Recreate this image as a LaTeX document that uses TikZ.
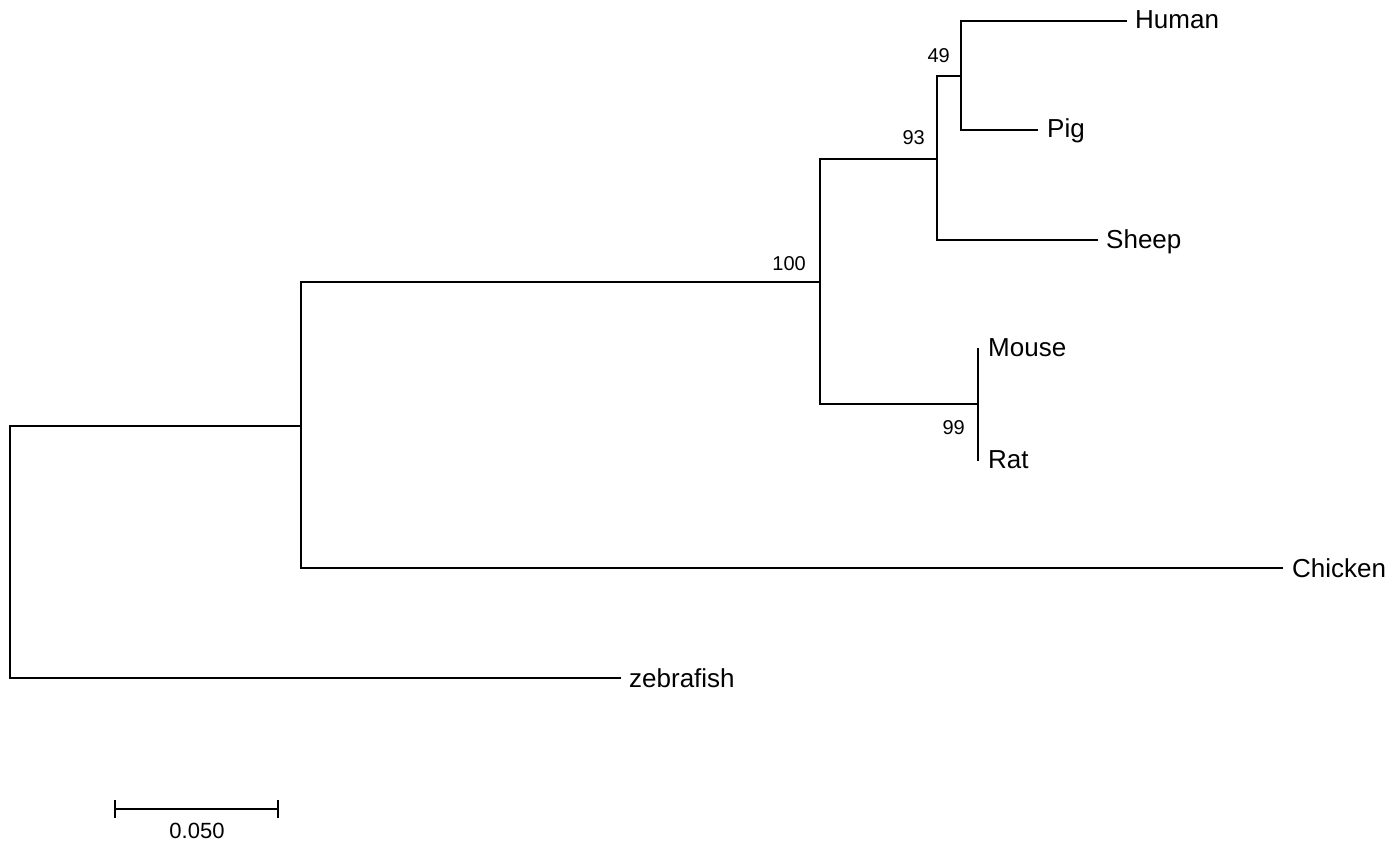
\documentclass[tikz,border=0pt]{standalone}
\usepackage{fontspec}
\setmainfont{Liberation Sans}
\tikzset{
  branch/.style={line width=1.6pt, line cap=rect, black},
  taxon/.style={anchor=base west, inner sep=0pt, font=\fontsize{26}{30}\selectfont},
  boot/.style={anchor=base east, inner sep=0pt, font=\fontsize{20}{24}\selectfont},
}
\begin{document}
\begin{tikzpicture}[x=1pt,y=-1pt]
\useasboundingbox (0,0) rectangle (1396,842);
% internal nodes
\coordinate (root) at (10,426);
\coordinate (rootT) at (10,426);
\coordinate (rootB) at (10,678);
\coordinate (n1) at (301,426);
\coordinate (n1T) at (301,282);
\coordinate (n1B) at (301,568);
\coordinate (n100) at (820,282);
\coordinate (n100T) at (820,159);
\coordinate (n100B) at (820,404);
\coordinate (n93) at (937,159);
\coordinate (n93T) at (937,76);
\coordinate (n93B) at (937,240);
\coordinate (n49) at (961,76);
\coordinate (n49T) at (961,21);
\coordinate (n49B) at (961,130);
\coordinate (n99) at (978,404);
\coordinate (n99T) at (978,349);
\coordinate (n99B) at (978,460);
% leaves
\coordinate (human) at (1126,21);
\coordinate (pig) at (1037,130);
\coordinate (sheep) at (1097,240);
\coordinate (mouse) at (978,349);
\coordinate (rat) at (978,460);
\coordinate (chicken) at (1282,568);
\coordinate (zebra) at (620,678);
% branches
\draw[branch] (rootT) -- (rootB) -- (zebra);
\draw[branch] (rootT) -- (n1);
\draw[branch] (n1T) -- (n1B) -- (chicken);
\draw[branch] (n1T) -- (n100);
\draw[branch] (n100T) -- (n100B) -- (n99);
\draw[branch] (n100T) -- (n93);
\draw[branch] (n93T) -- (n93B) -- (sheep);
\draw[branch] (n93T) -- (n49);
\draw[branch] (n49T) -- (human);
\draw[branch] (n49T) -- (n49B) -- (pig);
\draw[branch] (n99T) -- (n99B);
% taxon labels
\node[taxon] (lhuman) at ([shift={(9,8)}]human) {Human};
\node[taxon] (lpig) at ([shift={(10,8)}]pig) {Pig};
\node[taxon] (lsheep) at ([shift={(9,8)}]sheep) {Sheep};
\node[taxon] (lmouse) at ([shift={(10,7)}]mouse) {Mouse};
\node[taxon] (lrat) at ([shift={(10,8)}]rat) {Rat};
\node[taxon] (lchicken) at ([shift={(10,9)}]chicken) {Chicken};
\node[taxon] (lzebra) at ([shift={(9,9)}]zebra) {zebrafish};
% bootstrap values
\node[boot] (b49) at ([shift={(-11,-13)}]n49) {49};
\node[boot] (b93) at ([shift={(-12,-14)}]n93) {93};
\node[boot] (b100) at ([shift={(-14,-12)}]n100) {100};
\node[boot] (b99) at ([shift={(-13,30)}]n99) {99};
% scale bar
\coordinate (sL) at (115,809);
\coordinate (sR) at (278,809);
\draw[line width=1.6pt] (sL) -- (sR);
\draw[line width=1.6pt] ([yshift=-9]sL) -- ([yshift=9]sL);
\draw[line width=1.6pt] ([yshift=-9]sR) -- ([yshift=9]sR);
\node[anchor=base, inner sep=0pt, font=\fontsize{22}{26}\selectfont] (scale) at (197,838) {0.050};
\end{tikzpicture}
\end{document}
